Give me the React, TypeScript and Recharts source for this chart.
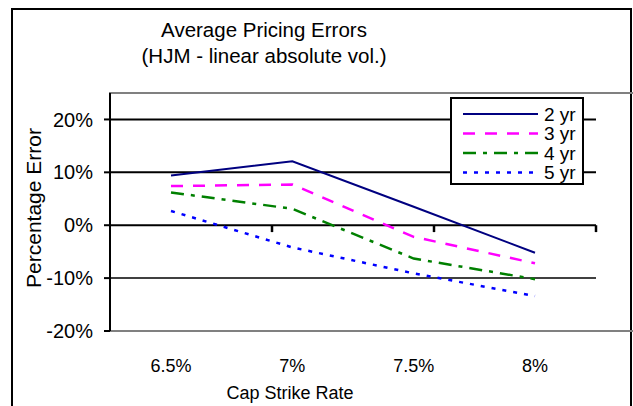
import { LineChart, Line, XAxis, YAxis, ReferenceLine, ReferenceArea, Legend } from 'recharts'

const strikeRates = ['6.5%', '7%', '7.5%', '8%']
const errors2yr = [9.4, 12.1, 3.5, -5.2]
const errors3yr = [7.4, 7.7, -2.2, -7.2]
const errors4yr = [6.2, 3.1, -6.3, -10.2]
const errors5yr = [2.7, -4.2, -9.1, -13.4]
const yTicks = [-20, -10, 0, 10, 20]
const gridValues = [20, 10, -10]
const categoryEdges = [1, 2, 3]

const data = strikeRates.map((rate, i) => ({
  rate,
  y2: errors2yr[i],
  y3: errors3yr[i],
  y4: errors4yr[i],
  y5: errors5yr[i],
}))

const series = [
  { key: 'y2', name: '2 yr', color: '#000080', dash: undefined, width: 2 },
  { key: 'y3', name: '3 yr', color: '#ff00ff', dash: '12 10', width: 2.5 },
  { key: 'y4', name: '4 yr', color: '#008000', dash: '13 7 4 7', width: 2.5 },
  { key: 'y5', name: '5 yr', color: '#0000ff', dash: '4 7', width: 2.5 },
]

const font = '"Liberation Sans", Arial, sans-serif'

function LegendBox() {
  return (
    <div
      style={{
        width: 134,
        height: 88,
        border: '2px solid #000',
        background: '#fff',
        boxSizing: 'border-box',
        overflow: 'hidden',
      }}
    >
      <svg width={130} height={84} style={{ display: 'block' }}>
        {series.map((s, i) => (
          <g key={s.key}>
            <line
              x1={11}
              x2={86}
              y1={15 + i * 19.5}
              y2={15 + i * 19.5}
              stroke={s.color}
              strokeWidth={s.width}
              strokeDasharray={s.dash}
            />
            <text x={92} y={15 + i * 19.5} dy="0.36em" fontSize={19} fill="#000" fontFamily={font}>
              {s.name}
            </text>
          </g>
        ))}
      </svg>
    </div>
  )
}

function YTitle(props: any) {
  const vb = props.viewBox || { x: 0, y: 93, width: 110, height: 238 }
  const cx = vb.x + 33
  const cy = vb.y + vb.height / 2 - 4
  return (
    <text
      x={cx}
      y={cy}
      transform={`rotate(-90 ${cx} ${cy})`}
      textAnchor="middle"
      dominantBaseline="central"
      fontSize={21}
      fill="#000"
      fontFamily={font}
    >
      Percentage Error
    </text>
  )
}

export default function App() {
  return (
    <div style={{ position: 'absolute', left: 0, top: 0, width: 633, height: 406, overflow: 'hidden', background: '#fff', fontFamily: font }}>
      <div
        style={{
          position: 'absolute',
          left: 11,
          top: 8,
          width: 621,
          height: 420,
          border: '2px solid #000',
          boxSizing: 'border-box',
        }}
      />
      <div style={{ position: 'absolute', left: 0, width: 528, top: 20, textAlign: 'center', fontSize: 20.5, lineHeight: '20.5px', color: '#000' }}>
        Average Pricing Errors
      </div>
      <div style={{ position: 'absolute', left: 0, width: 528, top: 46, textAlign: 'center', fontSize: 20.5, lineHeight: '20.5px', color: '#000' }}>
        (HJM - linear absolute vol.)
      </div>
      <div style={{ position: 'absolute', left: 0, top: 0 }}>
        <LineChart width={633} height={406} data={data} margin={{ top: 93, right: 37, bottom: 0, left: 0 }}>
          <XAxis
            dataKey="rate"
            interval={0}
            padding={{ left: 61, right: 61 }}
            axisLine={false}
            tickLine={false}
            tickSize={0}
            tickMargin={28}
            height={75}
            tick={{ fontSize: 18, fill: '#000', fontFamily: font }}
            label={{ value: 'Cap Strike Rate', position: 'insideBottom', offset: 7, dx: -63, fontSize: 18, fill: '#000', fontFamily: font }}
          />
          <XAxis
            xAxisId="frame"
            type="number"
            domain={[0, 4]}
            axisLine={false}
            tickLine={false}
            tick={false}
            height={0}
            allowDataOverflow
          />
          <YAxis
            domain={[-20, 25]}
            ticks={yTicks}
            interval={0}
            width={110}
            tickFormatter={(v) => `${v}%`}
            axisLine={{ stroke: '#000', strokeWidth: 2 }}
            tickLine={{ stroke: '#000', strokeWidth: 2 }}
            tickSize={6}
            tickMargin={11}
            tick={{ fontSize: 20, fill: '#000', fontFamily: font }}
            label={<YTitle />}
          />
          <ReferenceArea
            xAxisId="frame"
            x1={0}
            x2={4}
            y1={-20}
            y2={25}
            fill="none"
            fillOpacity={0}
            stroke="#808080"
            strokeWidth={2}
            ifOverflow="visible"
          />
          {gridValues.map((v) => (
            <ReferenceLine key={v} y={v} stroke="#000" strokeWidth={v === -10 ? 1.5 : 2} />
          ))}
          <ReferenceLine y={0} stroke="#000" strokeWidth={2} />
          {categoryEdges.map((x) => (
            <ReferenceLine
              key={x}
              xAxisId="frame"
              segment={[{ x, y: 0 }, { x, y: -1.3 }]}
              stroke="#000"
              strokeWidth={2.5}
              ifOverflow="visible"
            />
          ))}
          {series.map((s) => (
            <Line
              key={s.key}
              type="linear"
              dataKey={s.key}
              name={s.name}
              stroke={s.color}
              strokeWidth={s.width}
              strokeDasharray={s.dash}
              dot={false}
              activeDot={false}
              isAnimationActive={false}
            />
          ))}
          <Legend
            layout="horizontal"
            verticalAlign="middle"
            align="center"
            content={<LegendBox />}
            wrapperStyle={{ left: 450, top: 97, width: 134, height: 88 }}
          />
        </LineChart>
      </div>
    </div>
  )
}
